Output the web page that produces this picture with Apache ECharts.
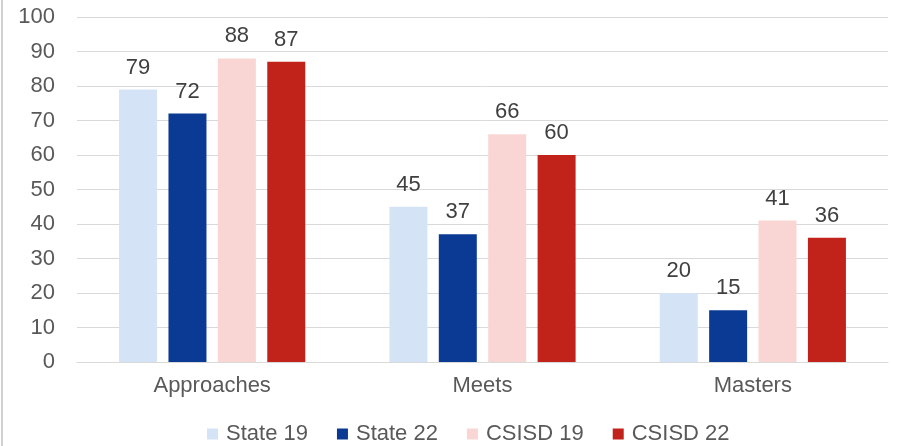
<!DOCTYPE html>
<html><head><meta charset="utf-8">
<script src="https://cdn.jsdelivr.net/npm/echarts@6/dist/echarts.min.js"></script>
<style>html,body{margin:0;padding:0;background:#fff}#c{width:899px;height:446px}</style>
</head><body><div id="c"></div>
<script>
const categories = ['Approaches', 'Meets', 'Masters'];
const seriesNames = ['State 19', 'State 22', 'CSISD 19', 'CSISD 22'];
const state19 = [79, 45, 20];
const state22 = [72, 37, 15];
const csisd19 = [88, 66, 41];
const csisd22 = [87, 60, 36];
const yTicks = [0, 10, 20, 30, 40, 50, 60, 70, 80, 90, 100];

const colors = ['#d5e3f6', '#0b3a94', '#f9d6d4', '#c1221a'];
const values = [state19, state22, csisd19, csisd22];
const font = 'Arial, "Liberation Sans", sans-serif';
const chart = echarts.init(document.getElementById('c'));
chart.setOption({
  animation: false,
  textStyle: { fontFamily: font },
  grid: { left: 77, right: 11, top: 17, bottom: 84 },
  legend: {
    top: 418, left: 202, itemWidth: 11, itemHeight: 11, itemGap: 29,
    icon: 'rect',
    textStyle: { color: '#595959', fontSize: 22, fontFamily: font, padding: [0, 0, 0, 3] },
    data: seriesNames
  },
  xAxis: {
    type: 'category', data: categories,
    axisLine: { lineStyle: { color: '#d9d9d9', width: 1 } },
    axisTick: { show: false },
    axisLabel: { color: '#595959', fontSize: 22, margin: 13, fontFamily: font }
  },
  yAxis: {
    type: 'value', min: yTicks[0], max: yTicks[yTicks.length - 1], interval: 10,
    axisLine: { show: false }, axisTick: { show: false },
    splitLine: { lineStyle: { color: '#d9d9d9', width: 1 } },
    axisLabel: { color: '#595959', fontSize: 22, margin: 22, fontFamily: font }
  },
  graphic: [{ type: 'rect', shape: { x: 1, y: 0, width: 2, height: 446 }, style: { fill: '#d0d0d0' } }],
  series: seriesNames.map((n, i) => ({
    name: n, type: 'bar', data: values[i], barWidth: 38, barGap: '30%',
    itemStyle: { color: colors[i] },
    label: { show: true, position: 'top', distance: 11, color: '#404040', fontSize: 22, fontFamily: font }
  }))
});
</script></body></html>
